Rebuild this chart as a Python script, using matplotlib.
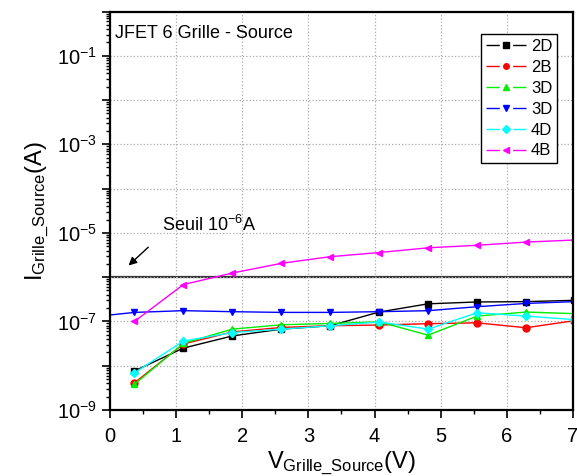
import numpy as np
import matplotlib
matplotlib.use('Agg')
import matplotlib.pyplot as plt
from matplotlib.lines import Line2D
from matplotlib.ticker import LogLocator, FuncFormatter, MultipleLocator, NullFormatter

plt.rcParams['font.family'] = ['Liberation Sans', 'DejaVu Sans']
plt.rcParams['mathtext.fontset'] = 'custom'
plt.rcParams['mathtext.rm'] = 'Liberation Sans'
plt.rcParams['mathtext.it'] = 'Liberation Sans'
plt.rcParams['mathtext.default'] = 'rm'

# tension grille-source (V)
vgs = [0.37, 1.11, 1.85, 2.59, 3.33, 4.07, 4.81, 5.55, 6.29, 7.02]
vgs_blue = [-0.37] + vgs

i_2D = [7.6e-9, 2.5e-8, 4.7e-8, 6.7e-8, 8.0e-8, 1.63e-7, 2.5e-7, 2.75e-7, 2.8e-7, 3.0e-7]
i_2B = [4.1e-9, 3.1e-8, 5.8e-8, 7.3e-8, 8.0e-8, 8.3e-8, 8.9e-8, 9.3e-8, 7.2e-8, 1.04e-7]
i_3D = [3.8e-9, 3.2e-8, 6.7e-8, 8.4e-8, 9.0e-8, 9.8e-8, 4.9e-8, 1.32e-7, 1.63e-7, 1.5e-7]
i_3D_b = [1.22e-7, 1.6e-7, 1.75e-7, 1.66e-7, 1.6e-7, 1.6e-7, 1.66e-7, 1.75e-7, 2.15e-7, 2.55e-7, 2.8e-7]
i_4D = [6.9e-9, 3.6e-8, 5.6e-8, 6.7e-8, 8.0e-8, 9.7e-8, 6.7e-8, 1.57e-7, 1.32e-7, 1.1e-7]
i_4B = [1.0e-7, 6.8e-7, 1.24e-6, 2.05e-6, 2.9e-6, 3.6e-6, 4.6e-6, 5.25e-6, 6.2e-6, 6.9e-6]

labels = ['2D', '2B', '3D', '3D', '4D', '4B']
colors = ['black', 'red', '#00ee00', 'blue', 'cyan', 'magenta']
markers = ['s', 'o', '^', 'v', 'D', '<']
xs = [vgs, vgs, vgs, vgs_blue, vgs, vgs]
ys = [i_2D, i_2B, i_3D, i_3D_b, i_4D, i_4B]

seuil = 1e-6

fig = plt.figure(figsize=(5.77, 4.76), dpi=100)
ax = fig.add_axes([0.1906, 0.1387, 0.8024, 0.8371])

handles = []
for x, y, c, m in zip(xs, ys, colors, markers):
    ms = 4.5 if m == 'D' else 5
    ax.plot(x, y, '-', marker=m, color=c, lw=1, ms=ms)
    # legend handle: line - gap - marker - gap - line
    handles.append(Line2D([], [], color=c, lw=1, marker=m, ms=4,
                          dashes=(9.6, 9.6)))

ax.axhline(seuil, color='#333333', lw=1.6, zorder=1)

ax.set_yscale('log')
ax.set_xlim(0, 7)
ax.set_ylim(1e-9, 1)

ax.yaxis.set_major_locator(LogLocator(base=10, numticks=20))
ax.yaxis.set_minor_locator(LogLocator(base=10, subs=np.arange(2, 10), numticks=20))
ax.yaxis.set_minor_formatter(NullFormatter())

def fmt_y(v, pos):
    e = int(round(np.log10(v)))
    if e % 2 == 0:
        return ''
    return r'$10^{%d}$' % e

ax.yaxis.set_major_formatter(FuncFormatter(fmt_y))
ax.xaxis.set_major_locator(MultipleLocator(1))
ax.xaxis.set_minor_locator(MultipleLocator(0.5))

ax.tick_params(which='major', direction='out', length=6, width=1.2, labelsize=14.5)
ax.tick_params(axis='x', which='major', pad=6)
ax.tick_params(which='minor', direction='out', length=3, width=1)
for s in ax.spines.values():
    s.set_linewidth(1.6)

ax.grid(True, which='major', linestyle=':', color='#aaaaaa', lw=0.9)

ax.set_xlabel(r'$V_{Grille\_Source}$(V)', fontsize=17, labelpad=3)
ax.set_ylabel(r'$I_{Grille\_Source}$(A)', fontsize=17, labelpad=4)

ax.text(0.01, 0.965, 'JFET 6 Grille - Source', transform=ax.transAxes,
        fontsize=13, va='top', ha='left')

ax.annotate('', xy=(0.25, 10**-5.78), xytext=(0.61, 10**-5.28),
            arrowprops=dict(arrowstyle='-|>', color='black', lw=1, mutation_scale=12))
ax.text(0.79, 10**-4.81, r'Seuil 10$^{-6}$A', fontsize=13, va='center', ha='left')

leg = ax.legend(handles, labels, loc='upper right', bbox_to_anchor=(0.966, 0.943),
                fontsize=12, frameon=True, fancybox=False, edgecolor='black',
                framealpha=1, handlelength=2.4, handletextpad=0.3, borderpad=0.3,
                labelspacing=0.35, borderaxespad=0)
leg.get_frame().set_linewidth(1)

fig.savefig('out.png', dpi=100)
